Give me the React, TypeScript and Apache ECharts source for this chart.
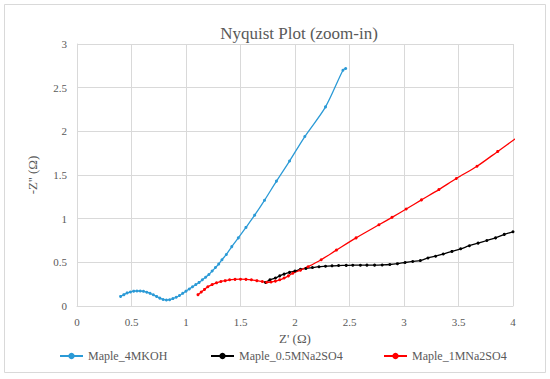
import React, { useEffect, useRef } from "react";
import * as echarts from "echarts";

const seriesNames = ["Maple_4MKOH", "Maple_0.5MNa2SO4", "Maple_1MNa2SO4"];
const seriesColors = ["#2b9ad6", "#000000", "#ff0000"];

const koh: number[][] = [
  [0.40, 0.11], [0.43, 0.13], [0.46, 0.15], [0.49, 0.16], [0.52, 0.17], [0.55, 0.172],
  [0.58, 0.172], [0.61, 0.168], [0.64, 0.158], [0.67, 0.145], [0.70, 0.128], [0.73, 0.11],
  [0.76, 0.09], [0.79, 0.075], [0.82, 0.068], [0.85, 0.072], [0.88, 0.085], [0.91, 0.10],
  [0.94, 0.12], [0.97, 0.145], [1.00, 0.17], [1.03, 0.195], [1.06, 0.22], [1.09, 0.245],
  [1.12, 0.27], [1.15, 0.30], [1.18, 0.33], [1.21, 0.36], [1.24, 0.40], [1.27, 0.44],
  [1.30, 0.48], [1.33, 0.53], [1.37, 0.59], [1.42, 0.68], [1.48, 0.78], [1.55, 0.90],
  [1.63, 1.04], [1.72, 1.21], [1.83, 1.43], [1.95, 1.66], [2.09, 1.94], [2.28, 2.28],
  [2.44, 2.70], [2.465, 2.72],
];

const na05: number[][] = [
  [1.73, 0.27], [1.77, 0.30], [1.82, 0.32], [1.86, 0.345], [1.90, 0.365], [1.95, 0.385],
  [2.00, 0.40], [2.05, 0.42], [2.10, 0.43], [2.16, 0.44], [2.22, 0.45], [2.28, 0.455],
  [2.34, 0.46], [2.40, 0.463], [2.47, 0.465], [2.53, 0.467], [2.60, 0.467], [2.66, 0.468],
  [2.73, 0.468], [2.80, 0.47], [2.87, 0.475], [2.94, 0.485], [3.01, 0.498], [3.08, 0.51],
  [3.15, 0.52], [3.22, 0.55], [3.29, 0.57], [3.36, 0.595], [3.44, 0.625], [3.52, 0.655],
  [3.60, 0.69], [3.68, 0.72], [3.76, 0.75], [3.84, 0.78], [3.92, 0.82], [4.0, 0.85],
];

const na1: number[][] = [
  [1.11, 0.13], [1.14, 0.16], [1.17, 0.19], [1.20, 0.22], [1.24, 0.245], [1.28, 0.265],
  [1.32, 0.28], [1.36, 0.29], [1.40, 0.30], [1.45, 0.305], [1.50, 0.307], [1.55, 0.305],
  [1.60, 0.30], [1.65, 0.29], [1.70, 0.28], [1.74, 0.272], [1.78, 0.275], [1.82, 0.285],
  [1.86, 0.30], [1.90, 0.32], [1.94, 0.345], [1.98, 0.375], [2.05, 0.41], [2.12, 0.45],
  [2.24, 0.53], [2.38, 0.64], [2.56, 0.78], [2.77, 0.93], [2.89, 1.015], [3.02, 1.11],
  [3.16, 1.215], [3.32, 1.333], [3.48, 1.46], [3.67, 1.60], [3.86, 1.77], [4.05, 1.94],
];

const seriesData = [koh, na05, na1];
const legendLefts = [59, 210, 383];

const FONT = "'Liberation Serif', 'Times New Roman', serif";
const GRAY = "#595959";

export default function App() {
  const ref = useRef<HTMLDivElement>(null);
  useEffect(() => {
    if (!ref.current) return;
    const chart = echarts.init(ref.current, undefined, { renderer: "svg" });
    chart.setOption({
      animation: false,
      backgroundColor: "#ffffff",
      textStyle: { fontFamily: FONT },
      title: {
        text: "Nyquist Plot (zoom-in)",
        left: 294,
        textAlign: "center",
        top: 20,
        textStyle: { fontFamily: FONT, fontSize: 17, fontWeight: "normal", color: GRAY },
      },
      graphic: [
        {
          type: "rect",
          shape: { x: 4.5, y: 4.5, width: 541, height: 368 },
          style: { fill: "none", stroke: "#d9d9d9", lineWidth: 1 },
          silent: true,
        },
      ],
      legend: seriesNames.map((n, i) => ({
        data: [n],
        left: legendLefts[i],
        top: 350,
        padding: 0,
        itemWidth: 23,
        itemHeight: 8,
        itemGap: 2,
        textStyle: { fontFamily: FONT, fontSize: 12, color: GRAY },
      })),
      grid: { left: 77, right: 37, top: 44, bottom: 73 },
      xAxis: {
        type: "value",
        min: 0,
        max: 4,
        interval: 0.5,
        name: "Z' (Ω)",
        nameLocation: "middle",
        nameGap: 26,
        nameTextStyle: { fontFamily: FONT, fontSize: 13, color: GRAY },
        axisLine: { show: true, lineStyle: { color: "#d9d9d9" } },
        axisTick: { show: false },
        axisLabel: { fontFamily: FONT, fontSize: 11, color: GRAY, margin: 10 },
        splitLine: { show: true, lineStyle: { color: "#d9d9d9" } },
      },
      yAxis: {
        type: "value",
        min: 0,
        max: 3,
        interval: 0.5,
        name: "-Z'' (Ω)",
        nameLocation: "middle",
        nameGap: 38,
        nameTextStyle: { fontFamily: FONT, fontSize: 13, color: GRAY },
        axisLine: { show: true, lineStyle: { color: "#d9d9d9" } },
        axisTick: { show: false },
        axisLabel: { fontFamily: FONT, fontSize: 11, color: GRAY, margin: 10 },
        splitLine: { show: true, lineStyle: { color: "#d9d9d9" } },
      },
      series: seriesNames.map((n, i) => ({
        name: n,
        type: "line",
        data: seriesData[i],
        smooth: 0.3,
        clip: true,
        symbol: "circle",
        symbolSize: 3,
        showSymbol: true,
        color: seriesColors[i],
        lineStyle: { width: 1.3, color: seriesColors[i] },
        itemStyle: { color: seriesColors[i] },
      })),
    });
    return () => chart.dispose();
  }, []);
  return <div ref={ref} style={{ width: 550, height: 379, position: "absolute", left: 0, top: 0 }} />;
}
